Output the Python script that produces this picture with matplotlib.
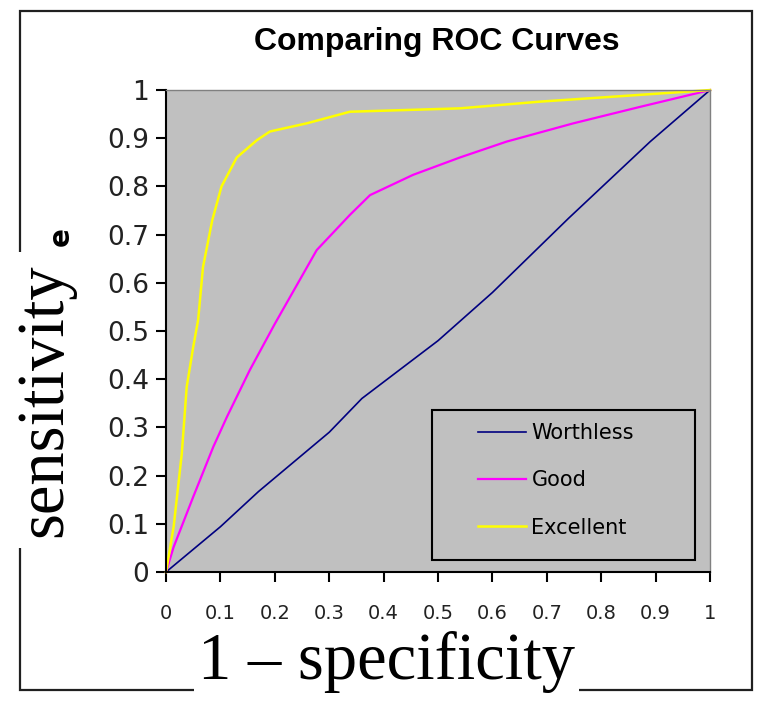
import numpy as np
import matplotlib
matplotlib.use("Agg")
import matplotlib.pyplot as plt
from matplotlib.patches import Rectangle

# ROC points
fpr_worthless = [0, 0.1, 0.17, 0.3, 0.36, 0.5, 0.6, 0.74, 0.89, 1.0]
tpr_worthless = [0, 0.094, 0.167, 0.29, 0.36, 0.48, 0.58, 0.734, 0.893, 1.0]

fpr_good = [0, 0.014, 0.05, 0.087, 0.112, 0.154, 0.2, 0.277, 0.338, 0.375,
            0.454, 0.54, 0.626, 0.749, 0.871, 1.0]
tpr_good = [0, 0.052, 0.156, 0.26, 0.322, 0.419, 0.515, 0.668, 0.741, 0.782,
            0.824, 0.86, 0.893, 0.931, 0.965, 1.0]

fpr_excellent = [0, 0.014, 0.029, 0.038, 0.05, 0.059, 0.068, 0.085, 0.102, 0.13,
                 0.167, 0.191, 0.259, 0.338, 0.54, 0.688, 0.871, 1.0]
tpr_excellent = [0, 0.094, 0.246, 0.384, 0.467, 0.523, 0.633, 0.73, 0.80, 0.86,
                 0.896, 0.914, 0.931, 0.955, 0.962, 0.976, 0.99, 1.0]

series_names = ["Worthless", "Good", "Excellent"]
series_colors = ["#000080", "#ff00ff", "#ffff00"]
tick_values = [0, 0.1, 0.2, 0.3, 0.4, 0.5, 0.6, 0.7, 0.8, 0.9, 1]
tick_labels = ["0", "0.1", "0.2", "0.3", "0.4", "0.5", "0.6", "0.7", "0.8", "0.9", "1"]

fig = plt.figure(figsize=(7.63, 7.09), dpi=100)
fig.patch.set_facecolor("white")

# outer chart border
fig.patches.append(Rectangle((0.026, 0.027), 0.959, 0.958, transform=fig.transFigure,
                             fill=False, ec="#202020", lw=1.6, zorder=0))

ax = fig.add_axes([0.2176, 0.1932, 0.713, 0.6798])
ax.set_facecolor("#c0c0c0")

curves = [(fpr_worthless, tpr_worthless), (fpr_good, tpr_good), (fpr_excellent, tpr_excellent)]
widths = [1.2, 1.6, 1.8]
for (x, y), name, color, lw in zip(curves, series_names, series_colors, widths):
    ax.plot(x, y, color=color, lw=lw, label=name, clip_on=False)

ax.set_xlim(0, 1)
ax.set_ylim(0, 1)

ax.set_xticks(tick_values)
ax.set_xticklabels(tick_labels, fontsize=14, color="#222222")
ax.set_yticks(tick_values)
ax.set_yticklabels(tick_labels, fontsize=19, color="#222222")
ax.tick_params(axis="x", direction="out", length=7, width=1.5, pad=16)
ax.tick_params(axis="y", direction="out", length=7, width=1.5, pad=5)

for side in ["left", "bottom"]:
    ax.spines[side].set_color("black")
    ax.spines[side].set_linewidth(1.5)
for side in ["top", "right"]:
    ax.spines[side].set_color("#808080")
    ax.spines[side].set_linewidth(1.0)

# legend: box drawn separately so the entries sit inside it like the original
ax.add_patch(Rectangle((0.489, 0.025), 0.483, 0.311, transform=ax.transAxes,
                       fill=False, ec="black", lw=1.5, zorder=5))
ax.legend(loc="center", bbox_to_anchor=(0.717, 0.19), frameon=False,
          fontsize=15, handlelength=2.3, handletextpad=0.25, labelspacing=1.3)

fig.text(0.573, 0.93, "Comparing ROC Curves", ha="center", va="baseline",
         family="Liberation Sans", fontsize=23, fontweight="bold")

fig.text(0.080, 0.666, "e", rotation=90, ha="center", va="center",
         fontsize=20, fontweight="bold")

fig.text(0.059, 0.436, "sensitivity", rotation=90, ha="center", va="center",
         family="Liberation Serif", fontsize=48,
         bbox=dict(facecolor="white", edgecolor="none", pad=8))

fig.text(0.507, 0.066, "1 \u2013 specificity", ha="center", va="center",
         family="Liberation Serif", fontsize=48,
         bbox=dict(facecolor="white", edgecolor="none", pad=3))

fig.savefig("out.png", dpi=100)
